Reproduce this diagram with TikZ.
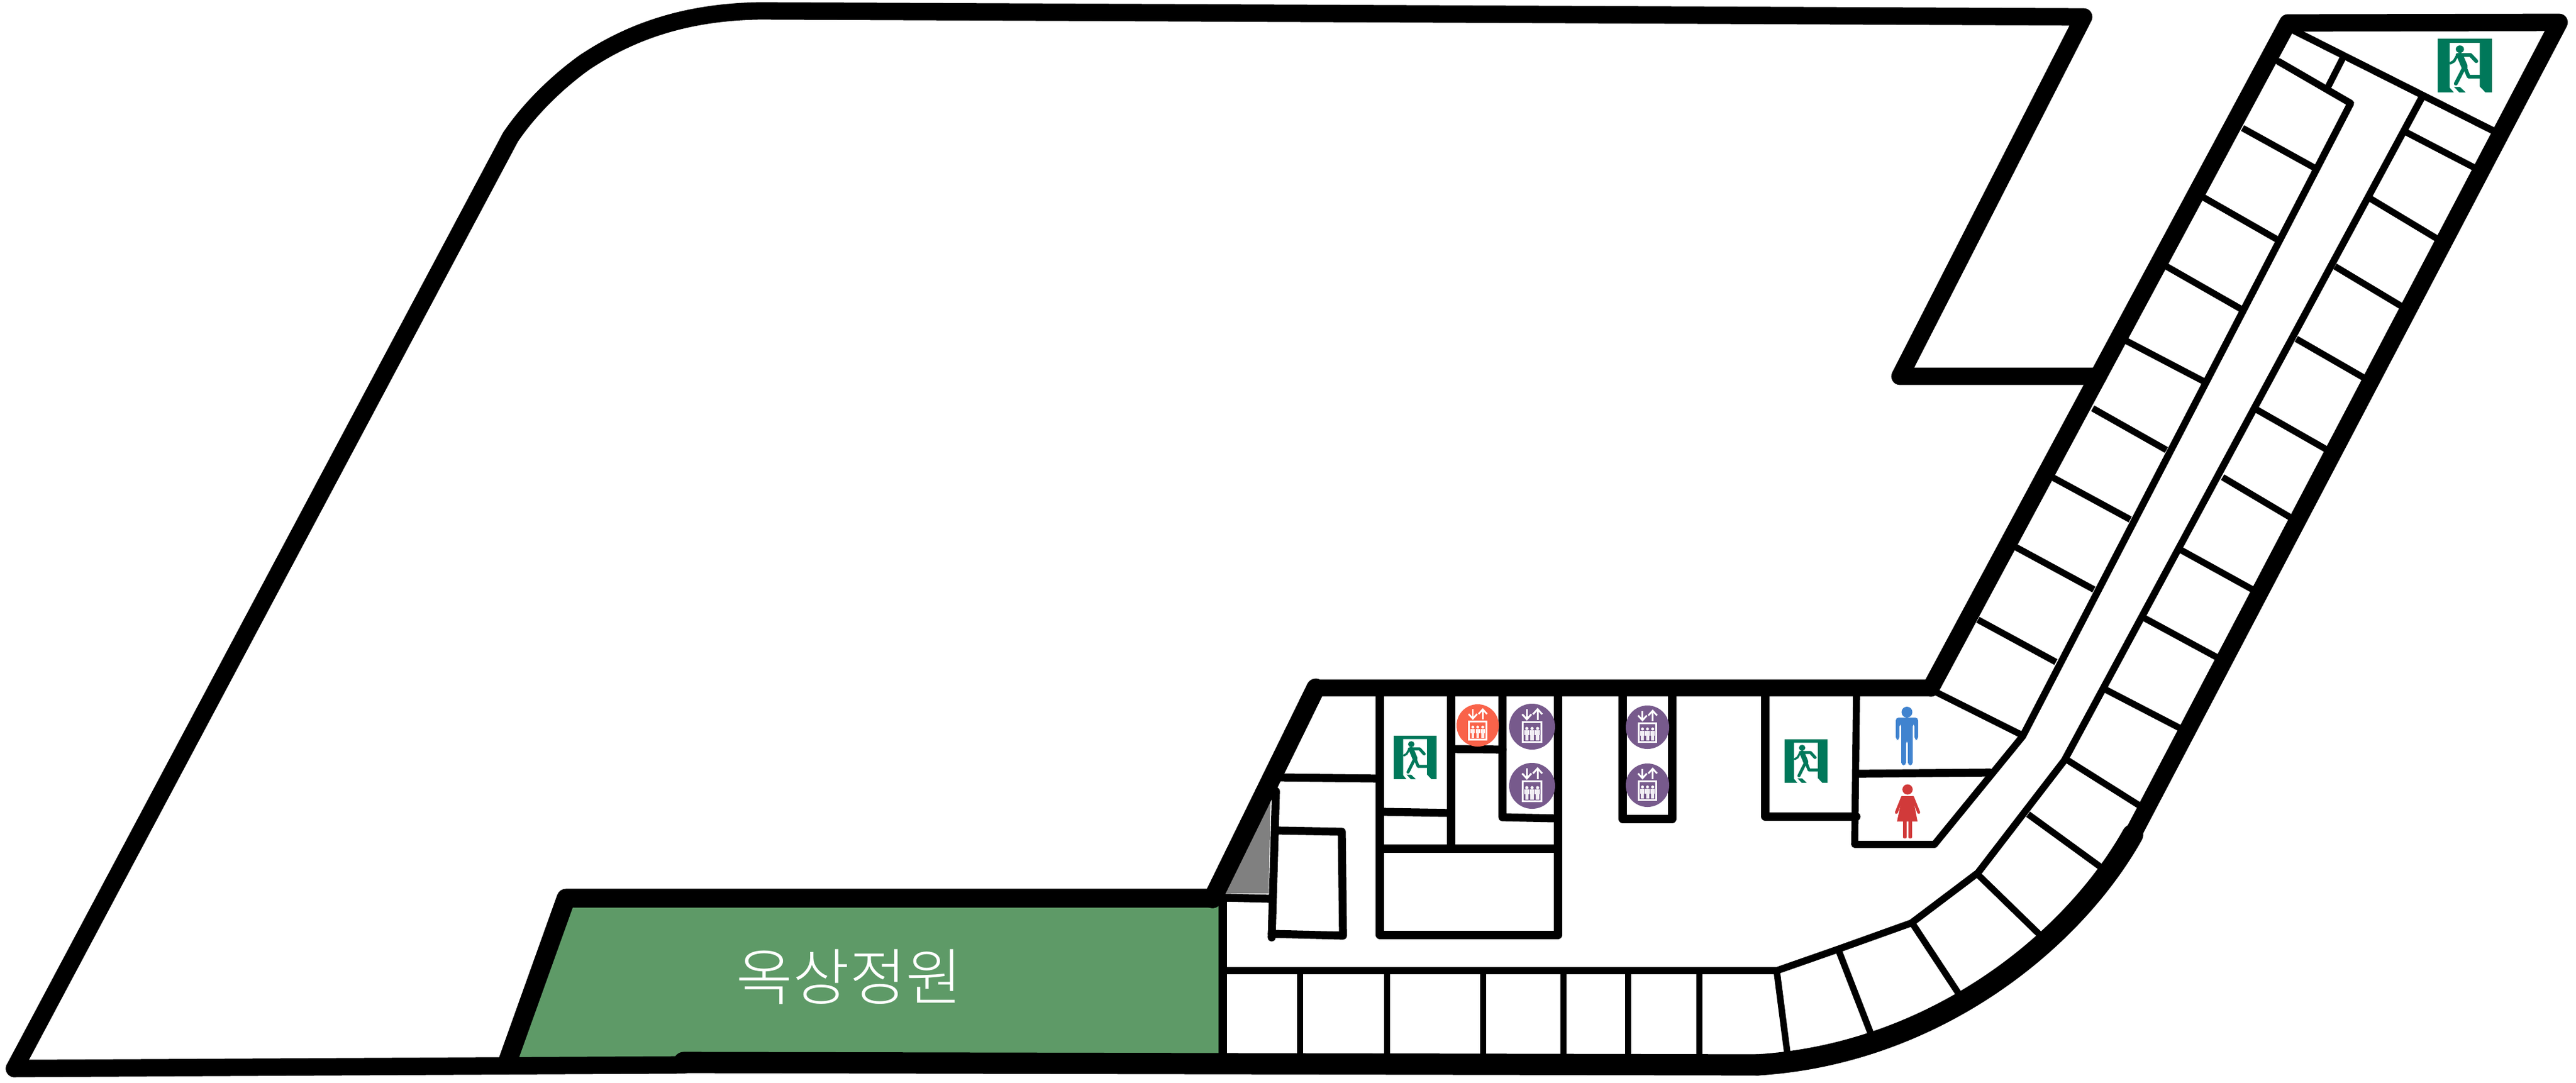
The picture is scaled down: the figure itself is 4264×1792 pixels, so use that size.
\documentclass[tikz,border=0pt]{standalone}
\usepackage{fontspec}
\newfontfamily\cjk{Noto Sans CJK KR Light}
\definecolor{gardengreen}{HTML}{5E9A67}
\definecolor{exitgreen}{HTML}{00785A}
\definecolor{liftpurple}{HTML}{775A8C}
\definecolor{liftorange}{HTML}{F9634A}
\definecolor{manblue}{HTML}{4083CF}
\definecolor{womanred}{HTML}{D13A3A}
\definecolor{shaft}{HTML}{808080}
\tikzset{
  wall/.style={line width=7.2pt,line join=round,line cap=round,black},
  heavywall/.style={line width=8.8pt,line join=round,line cap=round,black},
  thick wall/.style={line width=7.8pt,line join=round,line cap=round,black},
  corridor/.style={line width=2.9pt,line join=round,line cap=round,black},
  core/.style={line width=3.3pt,line join=round,line cap=round,black},
  room/.style={line width=2.7pt,line join=round,line cap=butt,black},
}
% x y w h : exit sign with top-left corner x,y; drawn in 186x215 local units
\newcommand{\exitsign}[4]{%
  \begin{scope}[shift={(#1,#2)},xscale=#3/186,yscale=#4/215]
    \fill[exitgreen] (0,0) rectangle (186,215);
    \fill[white] (41,17) -- (144,17) -- (144,192) -- (163,215) -- (56,215) -- (41,195) -- cycle;
    \fill[exitgreen] (76,42) ellipse (14 and 15);
    \begin{scope}[exitgreen,line cap=round,line join=round,line width={#3/186*13*0.25pt}]
      \draw (68,65) -- (112,65) -- (132,90);
      \draw[line width={#3/186*9*0.25pt}] (68,65) -- (56,90) -- (44,98);
      \draw[line width={#3/186*22*0.25pt}] (76,68) -- (92,112);
      \draw (92,112) -- (62,180);
      \draw (92,112) -- (106,152) -- (146,152);
    \end{scope}
    \fill[exitgreen] (56,193) -- (76,193) -- (96,215) -- (74,215) -- cycle;
  \end{scope}}
% cx cy r colour : lift sign
\newcommand{\liftsign}[4]{%
  \begin{scope}[shift={(#1,#2)},scale=#3]
    \fill[#4] (0,0) circle (1);
    \begin{scope}[white,line width={#3/38*3*0.25pt},line join=miter]
      \draw (-.23,-.76) -- (-.23,-.32);
      \draw (-.43,-.54) -- (-.23,-.32) -- (-.03,-.54);
      \draw (.24,-.28) -- (.24,-.76);
      \draw (.04,-.54) -- (.24,-.76) -- (.44,-.54);
      \draw (-.41,-.19) rectangle (.41,.68);
    \end{scope}
    \foreach \u in {-.23,0,.24}{
      \fill[white] (\u,.08) circle (.07);
      \fill[white!90!#4] (\u-.1,.17) rectangle (\u+.1,.38);
      \fill[white!90!#4] (\u-.07,.38) rectangle (\u+.07,.6);
    }
  \end{scope}}
\begin{document}
\begin{tikzpicture}[x=0.25pt,y=-0.25pt]
\useasboundingbox (0,0) rectangle (4264,1792);
\fill[white] (0,0) rectangle (4264,1792);

% roof garden
\fill[gardengreen] (937,1490) -- (2019,1490) -- (2021,1750) -- (845,1752) -- cycle;
\node[text=white,font={\cjk\fontsize{25.5pt}{25.5pt}\selectfont},inner sep=0pt] (garden) at (1406,1617) {옥상정원};

% shaft
\fill[shaft] (2103,1325) -- (2100,1479) -- (2029,1479) -- (2050,1420) -- cycle;

% outer walls
\draw[wall] (24,1769) -- (845,227) .. controls (880,175) and (930,130) .. (968,103)
  .. controls (1040,55) and (1130,20) .. (1258,18)
  -- (3449,28) -- (3145,623) -- (3473,623);
\draw[wall] (3196,1139) -- (3787,38) -- (4236,37) -- (3530,1382);
\draw[heavywall] (3530,1382) .. controls (3430,1560) and (3200,1745) .. (2909,1763);
\draw[wall] (3196,1139) -- (2178,1139);
\draw[thick wall] (2178,1139) -- (2007,1488);
\draw[thick wall] (2007,1487) -- (937,1487) -- (840,1758);
\draw[wall] (24,1769) -- (1132,1763);
\draw[heavywall] (1132,1759) -- (2909,1763);

% wing: top diagonals and corridor
\draw[corridor] (3798,51) -- (4132,219);
\draw[corridor] (3772,102) -- (3891,171) -- (3348,1219) -- (3202,1398) -- (3070,1398) -- (3073,1152);
\draw[room] (3879,94) -- (3853,145);
\draw[corridor] (4009,161) -- (3417,1259) -- (3274,1445) -- (3164,1528) -- (3044,1571) -- (2941,1607) -- (2024,1607);
\draw[core] (2024,1491) -- (2024,1747);

% wing rooms, corridor side to outer wall
\foreach \a/\b/\c/\d in {
  3712/212/3835/280, 3646/326/3772/398, 3586/441/3712/513, 3519/564/3649/632,
  3464/676/3586/745, 3397/790/3526/860, 3337/906/3466/976, 3274/1026/3403/1096,
  3205/1146/3345/1216,
  3983/219/4110/285, 3924/329/4047/403, 3865/441/3990/516, 3801/561/3926/633,
  3735/678/3863/751, 3679/790/3807/866, 3609/910/3743/984, 3549/1023/3682/1095,
  3486/1142/3619/1211, 3423/1259/3553/1341, 3357/1348/3482/1439, 3274/1448/3384/1555,
  3167/1531/3252/1660, 3044/1575/3104/1730, 2941/1608/2960/1755}
  {\draw[room] (\a,\b) -- (\c,\d);}
% bottom row
\foreach \x in {2152,2296,2455,2588,2695,2813}
  {\draw[room] (\x,1607) -- (\x,1750);}

% core rooms
\draw[core] (3075,1281) -- (3294,1279);
\draw[core] (2922,1152) -- (2922,1352) -- (3073,1352);
\draw[core] (2284,1153) -- (2284,1548) -- (2579,1548) -- (2579,1153);
\draw[core] (2402,1153) -- (2402,1402);
\draw[core] (2487,1153) -- (2487,1353) -- (2579,1355);
\draw[core] (2402,1240) -- (2487,1241);
\draw[core] (2290,1344) -- (2402,1346);
\draw[core] (2290,1405) -- (2579,1405);
\draw[core] (2686,1153) -- (2686,1356) -- (2768,1356) -- (2768,1153);
\draw[core] (2116,1287) -- (2284,1289);
\draw[core] (2112,1310) -- (2105,1552);
\draw[core] (2105,1546) -- (2223,1549) -- (2221,1377) -- (2116,1375);
\draw[core] (2025,1486) -- (2103,1488);

% signs
\exitsign{2307}{1218}{71}{72}
\exitsign{2954}{1224}{71}{72}
\exitsign{4035}{64}{90}{89}
\liftsign{2446}{1201}{35}{liftorange}
\liftsign{2536}{1203}{38}{liftpurple}
\liftsign{2536}{1301}{38}{liftpurple}
\liftsign{2727}{1204}{36}{liftpurple}
\liftsign{2727}{1300}{36}{liftpurple}

% man
\begin{scope}[manblue]
  \fill (3156.5,1179) circle (9);
  \fill[rounded corners=1.2pt] (3138,1225) -- (3138,1188) -- (3175,1188) -- (3175,1225) -- (3169,1225) -- (3169,1198) -- (3166,1198) -- (3166,1267) -- (3158,1267) -- (3158,1226) -- (3155,1226) -- (3155,1267) -- (3147,1267) -- (3147,1198) -- (3144,1198) -- (3144,1225) -- cycle;
\end{scope}
% woman
\begin{scope}[womanred]
  \fill (3157.5,1307) circle (8.5);
  \fill (3149,1318) -- (3166,1318) -- (3174,1360) -- (3140,1360) -- cycle;
  \draw[line width=1.2pt,line cap=round] (3149,1320) -- (3139,1345);
  \draw[line width=1.2pt,line cap=round] (3166,1320) -- (3176,1345);
  \fill[rounded corners=0.5pt] (3150,1358) rectangle (3156,1388);
  \fill[rounded corners=0.5pt] (3159,1358) rectangle (3165,1388);
\end{scope}
\end{tikzpicture}
\end{document}
